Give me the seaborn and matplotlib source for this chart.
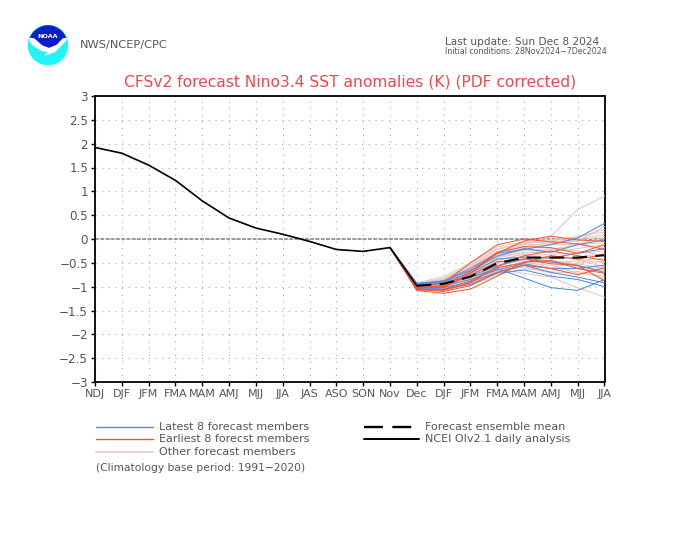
import numpy as np, pandas as pd
import matplotlib
matplotlib.use("Agg")
import matplotlib.pyplot as plt
from matplotlib.lines import Line2D
from matplotlib.patches import Circle, Polygon
import seaborn as sns

sns.set_theme(style="white")
plt.rcParams['font.family'] = ['DejaVu Sans']

tick_labels = ["NDJ","DJF","JFM","FMA","MAM","AMJ","MJJ","JJA","JAS","ASO","SON","Nov",
               "Dec","DJF","JFM","FMA","MAM","AMJ","MJJ","JJA"]
y_ticks = [-3,-2.5,-2,-1.5,-1,-0.5,0,0.5,1,1.5,2,2.5,3]
y_labels = ["−3","−2.5","−2","−1.5","−1","−0.5","0","0.5","1","1.5","2","2.5","3"]
analysis = [1.92,1.80,1.55,1.23,0.80,0.44,0.23,0.10,-0.05,-0.22,-0.26,-0.18]
nov_start = -0.18
ensemble_mean = [-0.98,-0.94,-0.79,-0.51,-0.39,-0.39,-0.39,-0.34]

latest_members = [
 [-0.93,-0.88,-0.62,-0.30,-0.22,-0.12,0.02,0.33],
 [-0.98,-0.93,-0.80,-0.62,-0.82,-1.02,-1.08,-0.85],
 [-0.95,-0.88,-0.66,-0.36,-0.20,-0.28,-0.12,-0.02],
 [-1.02,-1.05,-0.95,-0.72,-0.65,-0.78,-0.85,-1.00],
 [-0.97,-0.92,-0.78,-0.56,-0.42,-0.48,-0.55,-0.70],
 [-1.00,-0.98,-0.85,-0.65,-0.52,-0.62,-0.62,-0.55],
 [-0.94,-0.90,-0.72,-0.42,-0.38,-0.40,-0.30,-0.20],
 [-1.04,-1.02,-0.90,-0.70,-0.55,-0.70,-0.80,-0.92],
]
earliest_members = [
 [-1.02,-1.02,-0.72,-0.30,-0.04,0.06,-0.02,-0.05],
 [-1.08,-1.14,-1.05,-0.78,-0.48,-0.45,-0.62,-0.72],
 [-1.00,-0.92,-0.50,-0.12,0.00,-0.06,-0.10,-0.22],
 [-1.05,-1.08,-0.92,-0.58,-0.35,-0.25,-0.35,-0.45],
 [-1.03,-1.00,-0.76,-0.48,-0.42,-0.52,-0.55,-0.88],
 [-1.06,-1.10,-0.98,-0.70,-0.55,-0.62,-0.75,-0.60],
 [-1.02,-0.98,-0.68,-0.28,-0.16,-0.18,-0.30,-0.12],
 [-1.07,-1.06,-0.88,-0.60,-0.50,-0.35,-0.42,-0.33],
]
other_members = [
 [-0.95,-0.86,-0.58,-0.26,-0.12,0.05,0.62,0.90],
 [-0.98,-0.92,-0.80,-0.64,-0.72,-0.80,-1.02,-1.22],
 [-0.92,-0.79,-0.50,-0.16,-0.06,-0.02,0.05,0.15],
 [-0.96,-0.90,-0.66,-0.32,-0.16,-0.08,-0.02,0.05],
 [-1.00,-0.98,-0.84,-0.62,-0.50,-0.55,-0.72,-0.78],
 [-0.97,-0.94,-0.76,-0.46,-0.30,-0.22,-0.12,-0.08],
 [-1.03,-1.02,-0.92,-0.70,-0.58,-0.60,-0.62,-0.68],
 [-0.94,-0.84,-0.56,-0.22,-0.08,-0.06,0.00,0.10],
 [-0.99,-0.95,-0.82,-0.58,-0.40,-0.38,-0.42,-0.50],
 [-1.01,-1.00,-0.85,-0.60,-0.48,-0.50,-0.46,-0.40],
 [-0.95,-0.90,-0.70,-0.40,-0.28,-0.28,-0.20,-0.12],
 [-1.04,-1.06,-0.97,-0.76,-0.62,-0.68,-0.60,-0.55],
 [-0.93,-0.83,-0.54,-0.20,-0.10,-0.04,0.04,0.20],
 [-0.98,-0.96,-0.74,-0.50,-0.35,-0.32,-0.30,-0.25],
 [-1.02,-1.03,-0.90,-0.68,-0.55,-0.45,-0.52,-0.62],
 [-0.96,-0.93,-0.72,-0.44,-0.32,-0.42,-0.38,-0.30],
 [-1.00,-0.97,-0.83,-0.64,-0.58,-0.72,-0.68,-0.82],
 [-0.94,-0.87,-0.62,-0.34,-0.18,-0.12,-0.12,-0.18],
 [-0.97,-0.91,-0.68,-0.38,-0.24,-0.20,-0.25,-0.35],
 [-1.01,-0.99,-0.86,-0.66,-0.46,-0.60,-0.50,-0.47],
 [-0.96,-0.85,-0.60,-0.28,-0.12,-0.10,-0.04,0.26],
 [-1.03,-1.01,-0.84,-0.56,-0.44,-0.36,-0.44,-0.58],
 [-0.99,-0.94,-0.77,-0.52,-0.36,-0.46,-0.58,-0.65],
 [-0.95,-0.92,-0.66,-0.36,-0.22,-0.26,-0.10,0.02],
]

def long_form(members):
    rows = []
    for m, vals in enumerate(members):
        for i, v in enumerate([nov_start] + vals):
            rows.append((m, 11 + i, v))
    return pd.DataFrame(rows, columns=["member", "pos", "value"])

INK = "#555555"
BLUE, RED, PALE = "#4f8ce6", "#f8502a", "#e4c8c0"

fig = plt.figure(figsize=(7.0, 5.41), dpi=100, facecolor="white")
ax = fig.add_axes([95/700, 1-382/541, (604.5-95)/700, (382-96)/541])

for members, col, lw in [(other_members, PALE, 0.75), (latest_members, BLUE, 0.75), (earliest_members, RED, 0.7)]:
    sns.lineplot(data=long_form(members), x="pos", y="value", units="member", estimator=None,
                 color=col, lw=lw, ax=ax, legend=False, zorder=3)

ax.axhline(0, color="#999999", lw=1.4, ls=(0, (2, 0.7)), zorder=2)
sns.lineplot(x=list(range(12)), y=analysis, color="black", lw=1.2, ax=ax, legend=False, zorder=5)
ax.plot([11, 12], [nov_start, ensemble_mean[0]], color="black", lw=1.2, zorder=5)
sns.lineplot(x=list(range(12, 20)), y=ensemble_mean, color="black", lw=1.5, ax=ax, legend=False, zorder=6,
             linestyle=(0, (7, 4)))

ax.set_xlim(0, 19); ax.set_ylim(-3, 3)
ax.set_xticks(range(20)); ax.set_xticklabels(tick_labels)
ax.set_yticks(y_ticks); ax.set_yticklabels(y_labels)
ax.set_xlabel(""); ax.set_ylabel("")
ax.grid(True, color="#aaaaaa", lw=0.8, ls=(0, (1, 5)))
ax.set_axisbelow(True)
ax.tick_params(axis="both", length=3, width=1, color="black", labelcolor=INK, labelsize=8, pad=2,
               bottom=True, left=True)
ax.tick_params(axis="y", labelsize=8.6)
for s in ax.spines.values():
    s.set_color("black"); s.set_linewidth(1.3); s.set_visible(True)

def T(x, y, s, size, color=INK, **kw):
    fig.text(x/700, 1-y/541, s, fontsize=size, color=color, va="center", **kw)

T(350, 82, "CFSv2 forecast Nino3.4 SST anomalies (K) (PDF corrected)", 11.2, "#f04848", ha="center")
T(80, 45, "NWS/NCEP/CPC", 8.2)
T(445, 42, "Last update: Sun Dec 8 2024", 7.6)
T(445, 52, "Initial conditions: 28Nov2024−7Dec2024", 5.7)

def L(x0, x1, y, **kw):
    fig.add_artist(Line2D([x0/700, x1/700], [1-y/541, 1-y/541], **kw))

L(96, 153, 427, color=BLUE, lw=1)
L(96, 153, 439, color=RED, lw=1)
L(96, 153, 452, color=PALE, lw=1.2)
L(364, 419, 427, color="black", lw=1.7, ls=(0, (8, 4)))
L(364, 419, 439, color="black", lw=1.4)
T(159, 427, "Latest 8 forecast members", 8)
T(159, 439, "Earliest 8 forecst members", 8)
T(159, 452, "Other forecast members", 8)
T(96, 468, "(Climatology base period: 1991−2020)", 7.7)
T(425, 427, "Forecast ensemble mean", 8)
T(425, 439, "NCEI OIv2.1 daily analysis", 8)

# NOAA logo
logo = fig.add_axes([28/700, 1-65/541, 40/700, 40/541])
logo.set_xlim(-1, 1); logo.set_ylim(-1, 1); logo.axis("off")
disc = Circle((0, 0), 0.98, color="#1ff5f5")
logo.add_patch(disc)
cap = Polygon([(-1,1),(1,1),(1,0.35),(0.75,0.30),(0.45,-0.02),(0.05,-0.18),(-0.3,-0.05),(-0.7,0.30),(-1,0.35)],
              color="#0a1fc8")
logo.add_patch(cap); cap.set_clip_path(disc)
band = Polygon([(-1,0.35),(-0.7,0.30),(-0.3,-0.05),(0.05,-0.18),(0.45,-0.02),(0.75,0.30),(1,0.35),
                (0.7,0.05),(0.35,-0.32),(-0.15,-0.50),(0.1,-0.34),(-0.3,-0.28),(-0.75,0.0)], color="white")
logo.add_patch(band); band.set_clip_path(disc)
logo.text(0, 0.40, "NOAA", color="white", fontsize=4.6, fontweight="bold", ha="center", va="center")

fig.savefig("out.png", dpi=100)
